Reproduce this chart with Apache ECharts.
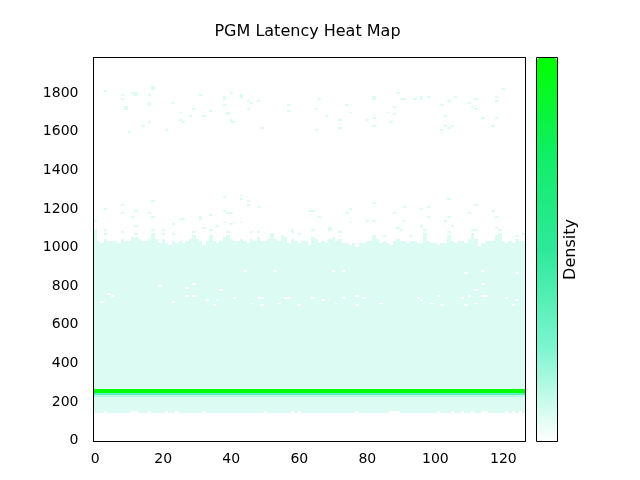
<!DOCTYPE html>
<html>
<head>
<meta charset="utf-8">
<script src="https://cdn.jsdelivr.net/npm/echarts@6/dist/echarts.min.js"></script>
<style>html,body{margin:0;padding:0;background:#fff;}#c{width:640px;height:480px;}</style>
</head>
<body>
<div id="c"></div>
<script>
// ---- data ----
// x: sample index 0..126, y: latency bins of 10 (bin centres), value: density 0..1
const xTicks = [0, 20, 40, 60, 80, 100, 120];
const yTicks = [0, 200, 400, 600, 800, 1000, 1200, 1400, 1600, 1800];

// top (highest contiguous bin) of the main light block, one per column 0..126
const topEdge = [
  1090,1030,1020,1040,1030,1030,1030,1020,1040,1030,
  1030,1050,1050,1040,1030,1030,1040,1060,1040,1020,
  1040,1020,1010,1030,1020,1030,1020,1030,1040,1060,
  1040,1030,1010,1030,1060,1030,1020,1030,1050,1060,
  1040,1030,1030,1040,1030,1020,1040,1030,1050,1030,
  1030,1040,1070,1040,1030,1060,1050,1020,1040,1030,
  1020,1030,1030,1010,1050,1040,1020,1030,1020,1040,
  1050,1030,1040,1020,1020,1010,1020,1000,1020,1020,
  1030,1030,1060,1040,1020,1030,1020,1010,1030,1040,
  1030,1030,1020,1030,1030,1020,1020,1070,1030,1020,
  1020,1010,1020,1020,1060,1030,1020,1030,1030,1020,
  1040,1070,1040,1000,1020,1030,1030,1030,1060,1070,
  1030,1020,1030,1020,1040,1030,1030
];
const baseBottom = 150;
const notchBottom = 160;
const notchCols = [3,11,12,16,21,24,32,50,58,60,77,87,88,89,101,105,108,111,114,115,121,123,125];
const baseDensity = 0.065;

// horizontal bands across all columns: [bin, density]
const bandRows = [[230, 0.14], [240, 0.35], [250, 1.0], [260, 1.0]];

// isolated occupied cells: [column, bin]
const sparseCells = [
  [3,1810],[8,1790],[8,1770],[11,1800],[12,1800],[12,1790],[17,1830],[17,1820],[16,1790],[16,1750],
  [16,1740],[9,1730],[9,1720],[23,1750],[25,1700],[25,1660],[26,1650],[28,1680],[29,1720],[31,1790],
  [32,1680],[34,1710],[38,1780],[38,1770],[38,1740],[39,1700],[39,1690],[40,1800],[40,1660],[40,1650],
  [41,1650],[43,1790],[43,1780],[45,1760],[46,1750],[45,1720],[48,1760],[49,1620],[14,1630],[16,1650],
  [10,1600],[21,1610],
  [57,1740],[57,1710],[66,1770],[65,1720],[68,1680],[65,1610],[74,1740],[75,1700],[72,1660],[72,1620],
  [82,1780],[82,1770],[82,1670],[82,1630],[80,1660],[86,1700],[87,1650],[88,1730],[88,1690],[89,1800],
  [90,1770],[91,1770],[94,1770],[96,1780],[96,1770],[98,1780],[102,1740],[103,1680],[103,1630],[105,1630],
  [102,1610],[104,1620],[104,1760],[106,1780],[110,1750],[111,1730],[112,1770],[112,1720],[114,1670],[117,1630],
  [118,1780],[118,1760],[118,1670],[120,1820],
  [38,1260],[43,1270],[43,1250],[45,1240],[45,1220],[48,1210],[17,1240],[8,1220],[3,1200],[8,1180],
  [11,1160],[12,1190],[16,1180],[17,1160],[23,1120],[25,1150],[26,1150],[31,1160],[31,1150],[34,1170],
  [38,1190],[39,1180],[40,1180],[38,1130],[40,1120],[41,1130],[43,1130],[36,1110],[12,1110],[32,1100],
  [3,1090],[3,1070],[0,1140],[8,1080],[12,1070],[17,1090],[17,1070],[20,1090],[20,1070],[23,1070],
  [34,1090],[39,1080],[46,1080],[48,1080],[58,1080],[58,1090],[29,1080],
  [104,1250],[82,1230],[112,1220],[91,1210],[98,1210],[64,1190],[63,1190],[75,1200],[74,1180],[96,1200],
  [88,1180],[110,1180],[117,1190],[118,1160],[66,1160],[98,1160],[104,1160],[82,1140],[80,1140],[91,1140],
  [103,1140],[75,1130],[96,1110],[105,1110],[69,1100],[69,1090],[64,1090],[89,1100],[90,1090],[112,1090],
  [118,1100],[104,1080],[72,1080],[97,1090],[111,1090],[119,1090],[124,1060],[126,1070],[60,1070],[85,1060],
  [93,1060]
];

// empty cells inside the main block: [column, bin]
const emptyCells = [
  [44,880],[53,880],[19,800],[27,790],[29,810],[4,760],[5,750],[27,750],[29,750],[37,780],
  [41,740],[48,740],[49,740],[56,740],[57,740],[33,730],[36,730],[2,720],[23,720],[46,710],
  [54,710],[35,700],[49,700],
  [70,880],[73,880],[109,870],[114,880],[124,870],[114,810],[112,780],[64,740],[67,730],[73,740],
  [77,750],[79,740],[84,710],[95,740],[96,730],[101,750],[108,740],[110,750],[114,750],[115,750],
  [121,740],[124,730],[60,700],[71,710],[77,700],[99,710],[102,700],[109,700],[112,710],[123,700]
];

// ---- build rectangles: [colStart, colEnd, binStart, binEnd, density] ----
const colStep = 1, binStep = 10;
const baseData = topEdge.map((t, i) => [i, i, notchCols.indexOf(i) >= 0 ? notchBottom : baseBottom, t, baseDensity]);
const bandData = bandRows.map(r => [0, topEdge.length - 1, r[0], r[0], r[1]]);
const sparseData = sparseCells.map(c => [c[0], c[0], c[1], c[1], baseDensity]);
const emptyData = emptyCells.map(c => [c[0], c[0], c[1], c[1], 0]);

function renderCell(params, api) {
  const p0 = api.coord([api.value(0) - colStep / 2, api.value(3) + binStep / 2]);
  const p1 = api.coord([api.value(1) + colStep / 2, api.value(2) - binStep / 2]);
  const x0 = Math.round(p0[0]), y0 = Math.round(p0[1]);
  const x1 = Math.round(p1[0]), y1 = Math.round(p1[1]);
  return {
    type: 'rect',
    shape: { x: x0, y: y0, width: x1 - x0, height: Math.max(1, y1 - y0) },
    style: { fill: api.visual('color') }
  };
}
function cellSeries(name, data) {
  return {
    type: 'custom', name: name, renderItem: renderCell, data: data, clip: true,
    encode: { x: [0, 1], y: [2, 3] }, silent: true, z: 2
  };
}

const FONT = 'DejaVu Sans';
const FS = 14;
const chart = echarts.init(document.getElementById('c'), null, { renderer: 'canvas' });
const frameAxis = { show: true, onZero: false, lineStyle: { color: '#000', width: 1 } };
const plain = v => String(v);
chart.setOption({
  animation: false,
  backgroundColor: '#fff',
  title: {
    text: 'PGM Latency Heat Map', left: 302.5, top: 19, textAlign: 'center',
    textStyle: { fontFamily: FONT, fontSize: 16, fontWeight: 'normal', color: '#000' }
  },
  grid: { left: 93.5, top: 57.5, right: 114.5, bottom: 38.5, containLabel: false },
  xAxis: [
    { type: 'value', min: -0.5, max: 126.5, position: 'bottom', z: 10,
      axisLine: frameAxis, axisTick: { show: false }, splitLine: { show: false },
      axisLabel: { customValues: xTicks, formatter: plain, margin: 11, fontFamily: FONT, fontSize: FS, color: '#000' } },
    { type: 'value', min: -0.5, max: 126.5, position: 'top', z: 10,
      axisLine: frameAxis, axisTick: { show: false }, splitLine: { show: false }, axisLabel: { show: false } }
  ],
  yAxis: [
    { type: 'value', min: -5, max: 1985, position: 'left', z: 10,
      axisLine: frameAxis, axisTick: { show: false }, splitLine: { show: false },
      axisLabel: { customValues: yTicks, formatter: plain, margin: 15, fontFamily: FONT, fontSize: FS, color: '#000' } },
    { type: 'value', min: -5, max: 1985, position: 'right', z: 10,
      axisLine: frameAxis, axisTick: { show: false }, splitLine: { show: false }, axisLabel: { show: false } }
  ],
  visualMap: {
    type: 'continuous', min: 0, max: 1, dimension: 4, seriesIndex: [0, 1, 2, 3],
    calculable: false, realtime: false, hoverLink: false,
    left: 537, top: 58, itemWidth: 20, itemHeight: 383, padding: 0,
    text: null, showLabel: false,
    inRange: { color: ['#ffffff', '#7af5cf', '#2ee89a', '#10ee66', '#00ff00'] }
  },
  graphic: [
    { type: 'rect', shape: { x: 536.5, y: 57.5, width: 21, height: 384 },
      style: { fill: 'none', stroke: '#000', lineWidth: 1 }, z: 100, silent: true },
    { type: 'text', x: 571, y: 249.5, rotation: Math.PI / 2,
      style: { text: 'Density', fontFamily: FONT, fontSize: 16, fill: '#000', align: 'center', verticalAlign: 'middle' },
      z: 100, silent: true }
  ],
  series: [
    cellSeries('base', baseData),
    cellSeries('bands', bandData),
    cellSeries('sparse', sparseData),
    cellSeries('empty', emptyData)
  ]
});
</script>
</body>
</html>
